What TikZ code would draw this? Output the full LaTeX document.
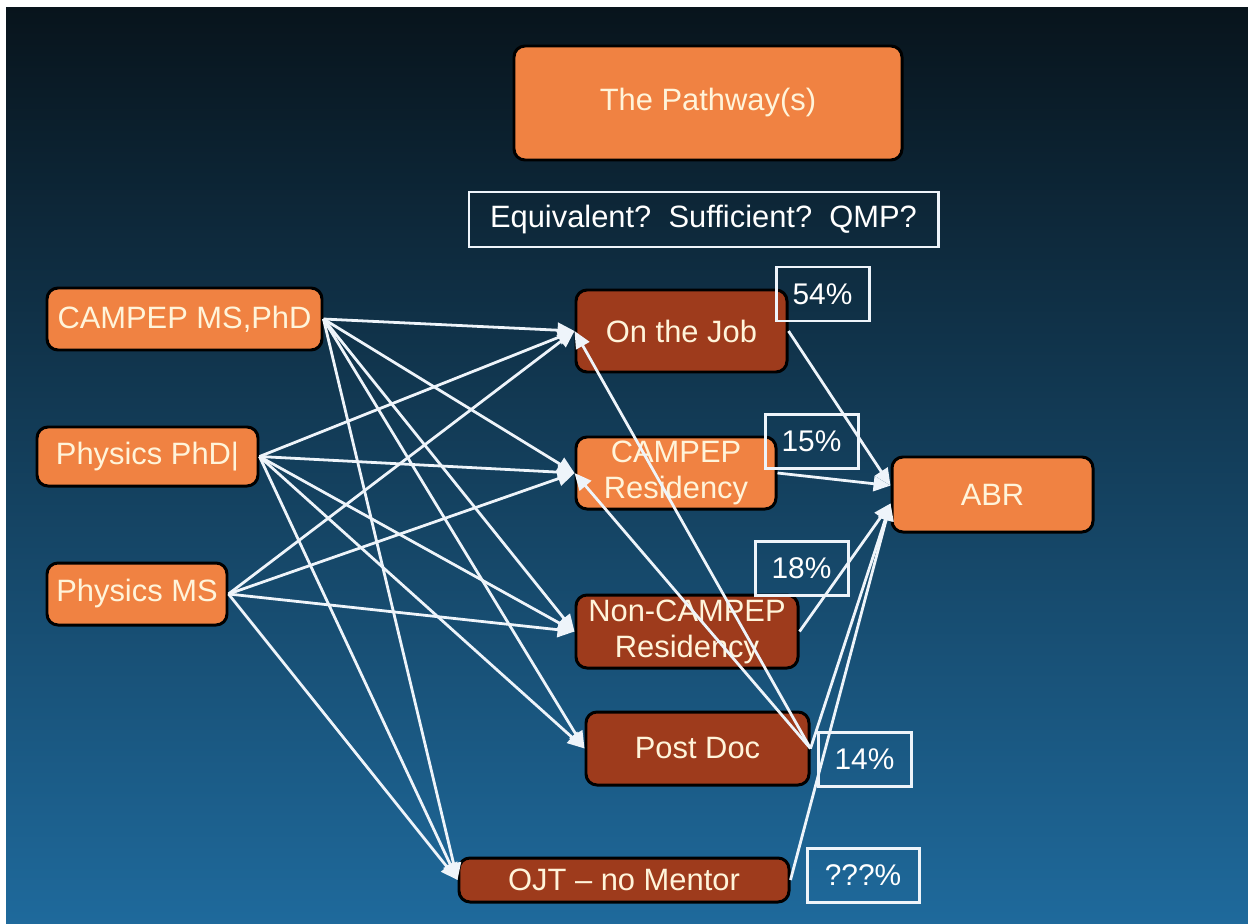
\documentclass[tikz,border=0pt]{standalone}
\usepackage{fontspec}
\setmainfont{Liberation Sans}
\usepackage{tikz}
\usetikzlibrary{arrows.meta}

\definecolor{slidetop}{HTML}{08141C}
\definecolor{slidemid}{HTML}{164870}
\definecolor{slidebot}{HTML}{1F6B9E}
\definecolor{boxorange}{HTML}{F08242}
\definecolor{boxbrown}{HTML}{9E3B1C}
\definecolor{boxtext}{HTML}{FFF4DA}
\definecolor{linewhite}{HTML}{EEF4FA}

\begin{document}
\begin{tikzpicture}[x=1bp, y=-1bp,
    every node/.style={font=\fontsize{31}{36}\selectfont, text=boxtext,
                       align=center, inner sep=0pt},
    orangebox/.style={draw=black, line width=3pt, fill=boxorange, rounded corners=11pt},
    brownbox/.style={draw=black, line width=3pt, fill=boxbrown, rounded corners=11pt},
    framebox/.style={draw=linewhite, line width=3pt, text=white},
    pctbox/.style={framebox, font=\fontsize{30}{36}\selectfont,
                   minimum width=93bp, minimum height=54bp},
    pathline/.style={draw=linewhite, line width=2.8pt,
                     -{Triangle[length=17pt,width=15pt]}}]
        % background
        \useasboundingbox (0,0) rectangle (1248,924);
        \fill[white] (0,0) rectangle (1248,924);
        \shade[top color=slidetop, middle color=slidemid, bottom color=slidebot]
            (6,7) rectangle (1262,938);
        % heading
        \node[orangebox, minimum width=388bp, minimum height=114bp] (title) at (708,103) {The Pathway(s)};
        \node[framebox, minimum width=469bp, minimum height=55bp] (question) at (703.5,219.5)
            {Equivalent?~~Sufficient?~~QMP?};
        % degrees
        \node[orangebox, minimum width=275bp, minimum height=62bp] (campep) at (184.5,319) {CAMPEP MS,PhD};
        \node[orangebox, minimum width=221bp, minimum height=59bp] (phd) at (147.5,456.5) {Physics PhD|};
        \node[orangebox, minimum width=180bp, minimum height=62bp] (ms) at (137,594) {Physics MS};
        % training
        \node[brownbox, minimum width=211bp, minimum height=82bp] (job) at (681.5,331) {On the Job};
        \node[orangebox, minimum width=200bp, minimum height=72bp] (res) at (676,473) {CAMPEP\\Residency};
        \node[brownbox, minimum width=222bp, minimum height=73bp] (nonres) at (687,631.5) {Non-CAMPEP\\Residency};
        \node[brownbox, minimum width=223bp, minimum height=73bp] (postdoc) at (697.5,748.5) {Post Doc};
        \node[brownbox, minimum width=330bp, minimum height=44bp] (ojt) at (624,880) {OJT \textendash{} no Mentor};
        % board
        \node[orangebox, minimum width=201bp, minimum height=75bp] (abr) at (992.5,494.5) {ABR};
        % shares
        \node[pctbox] (pjob) at (822.5,294) {54\%};
        \node[pctbox] (pres) at (811.5,441.5) {15\%};
        \node[pctbox] (pnon) at (801.5,568.5) {18\%};
        \node[pctbox] (ppost) at (864.5,759) {14\%};
        \node[pctbox, minimum width=112bp] (pojt) at (863,875.5) {???\%};
        % degree -> training
        \foreach \src in {campep,phd,ms}
            \foreach \dst in {job,res,nonres,ojt}
                \draw[pathline] (\src.east) -- (\dst.west);
        \foreach \src in {campep,phd}
            \draw[pathline] (\src.east) -- (postdoc.west);
        % post doc back into job / residency
        \draw[pathline] (postdoc.east) -- (job.west);
        \draw[pathline] (postdoc.east) -- (res.west);
        % training -> board
        \foreach \src/\ang in {job/175,res/175,nonres/185,postdoc/185,ojt/185}
            \draw[pathline] (\src.east) -- (abr.\ang);
      \end{tikzpicture}
\end{document}
